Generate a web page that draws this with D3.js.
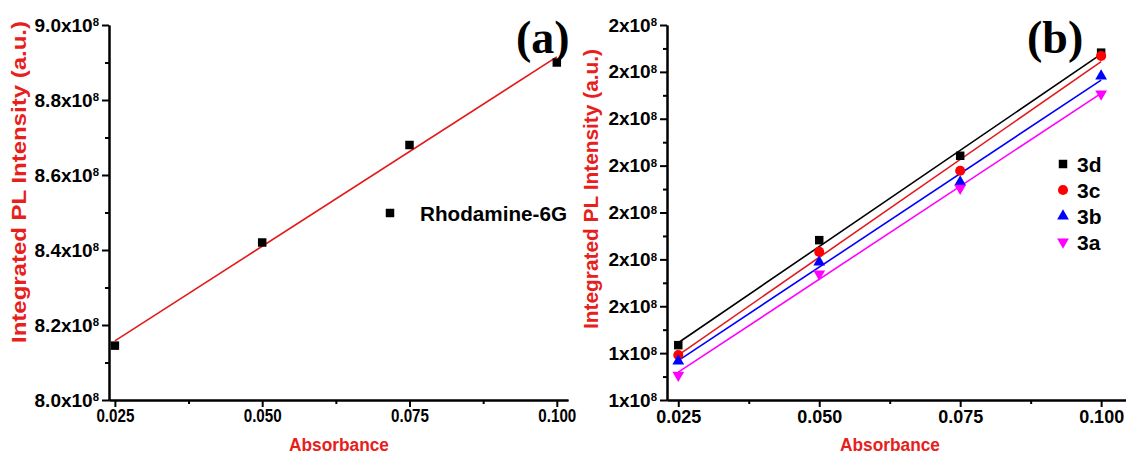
<!DOCTYPE html>
<html>
<head>
<meta charset="utf-8">
<script src="https://cdn.jsdelivr.net/npm/d3@7"></script>
<style>
  body { margin: 0; background: #fff; }
  svg { display: block; font-family: "Liberation Sans", Arial, sans-serif; font-weight: bold; }
  .axis path, .axis line { stroke: #000; stroke-width: 2; }
  .axis text { fill: #000; }
</style>
</head>
<body>
<div id="chart"></div>
<script>
// Data (intensity values in units of 1e8)
const absorbance = [0.025, 0.05, 0.075, 0.1];
const rhodamine = [8.145, 8.42, 8.68, 8.9];
const s3d = [1.417, 1.641, 1.821, 2.041];
const s3c = [1.396, 1.616, 1.789, 2.034];
const s3b = [1.383, 1.594, 1.765, 1.991];
const s3a = [1.353, 1.569, 1.752, 1.953];
const seriesNames = ["3d", "3c", "3b", "3a"];
const xTicks = [0.025, 0.05, 0.075, 0.1];
const xMinor = [0.0375, 0.0625, 0.0875];
const yTicksA = [8.0, 8.2, 8.4, 8.6, 8.8, 9.0];
const yMinorA = [8.1, 8.3, 8.5, 8.7, 8.9];
const yTicksB = [1.3, 1.4, 1.5, 1.6, 1.7, 1.8, 1.9, 2.0, 2.1];
const yMinorB = [1.35, 1.45, 1.55, 1.65, 1.75, 1.85, 1.95, 2.05];

const W = 1126, H = 454;
const red = "#e8201c";

const svg = d3.select("#chart").append("svg")
    .attr("width", W)
    .attr("height", H);

// least squares fit
function fit(xs, ys) {
    const mx = d3.mean(xs), my = d3.mean(ys);
    const sxy = d3.sum(xs, (x, i) => (x - mx) * (ys[i] - my));
    const sxx = d3.sum(xs, x => (x - mx) * (x - mx));
    const b = sxy / sxx;
    return x => my + b * (x - mx);
}

function drawAxes(cfg) {
    const {x, y, yTicks, yMinor, yFmt, xFont, xLen, yFont} = cfg;
    const x0 = x.range()[0], y0 = y.range()[0];

    // minor ticks
    svg.append("g").attr("class", "axis")
        .attr("transform", `translate(0,${y0})`)
        .call(d3.axisBottom(x).tickValues(xMinor).tickSize(4).tickSizeOuter(0).tickFormat(""));
    svg.append("g").attr("class", "axis")
        .attr("transform", `translate(${x0},0)`)
        .call(d3.axisLeft(y).tickValues(yMinor).tickSize(4).tickSizeOuter(0).tickFormat(""));

    const gx = svg.append("g").attr("class", "axis")
        .attr("transform", `translate(0,${y0})`)
        .call(d3.axisBottom(x).tickValues(xTicks).tickSize(7).tickSizeOuter(0).tickPadding(3)
            .tickFormat(d3.format(".3f")));
    gx.selectAll("text").attr("font-size", xFont).attr("font-family", null)
        .attr("textLength", xLen).attr("lengthAdjust", "spacingAndGlyphs");

    const gy = svg.append("g").attr("class", "axis")
        .attr("transform", `translate(${x0},0)`)
        .call(d3.axisLeft(y).tickValues(yTicks).tickSize(7).tickSizeOuter(0).tickPadding(3)
            .tickFormat(""));
    gy.selectAll(".tick text").each(function(d) {
        const t = d3.select(this).attr("font-size", yFont).attr("font-family", null);
        t.append("tspan").text(yFmt(d) + "x10");
        t.append("tspan").attr("dy", "-0.45em").attr("font-size", yFont * 0.6).text("8");
    });
}

function yTitle(cx, cy, len) {
    svg.append("text")
        .attr("transform", `translate(${cx},${cy}) rotate(-90)`)
        .attr("text-anchor", "middle")
        .attr("font-size", 19.5)
        .attr("fill", red)
        .attr("textLength", len)
        .attr("lengthAdjust", "spacingAndGlyphs")
        .text("Integrated PL Intensity (a.u.)");
}

function xTitle(cx, cy) {
    svg.append("text")
        .attr("x", cx).attr("y", cy)
        .attr("text-anchor", "middle")
        .attr("font-size", 18)
        .attr("fill", red)
        .attr("textLength", 100)
        .attr("lengthAdjust", "spacingAndGlyphs")
        .text("Absorbance");
}

function panelLabel(px, py, s) {
    svg.append("text")
        .attr("x", px).attr("y", py)
        .attr("font-family", "'Liberation Serif', 'Times New Roman', serif")
        .attr("font-weight", "bold")
        .attr("font-size", 46)
        .text(s);
}

// ---------- Panel (a) ----------
const xA = d3.scaleLinear().domain([0.0240, 0.1019]).range([109, 568]);
const yA = d3.scaleLinear().domain([8.0, 9.0]).range([400, 25]);

drawAxes({x: xA, y: yA, yTicks: yTicksA, yMinor: yMinorA, yFmt: d3.format(".1f"),
          xFont: 17.5, xLen: 38, yFont: 19});

const fA = fit(absorbance, rhodamine);
svg.append("line")
    .attr("x1", xA(0.025)).attr("y1", yA(fA(0.025)))
    .attr("x2", xA(0.1)).attr("y2", yA(fA(0.1)))
    .attr("stroke", "#e31a1c").attr("stroke-width", 1.6);

svg.append("g").selectAll("path")
    .data(absorbance)
    .join("path")
    .attr("transform", (d, i) => `translate(${xA(d)},${yA(rhodamine[i])})`)
    .attr("d", d3.symbol(d3.symbolSquare, 72));

// legend (a)
svg.append("path")
    .attr("transform", "translate(390,213)")
    .attr("d", d3.symbol(d3.symbolSquare, 72));
svg.append("text")
    .attr("x", 420).attr("y", 221)
    .attr("font-size", 20.5)
    .attr("textLength", 147)
    .attr("lengthAdjust", "spacingAndGlyphs")
    .text("Rhodamine-6G");

yTitle(26, 182, 322);
xTitle(339, 451);
panelLabel(516, 53, "(a)");

// ---------- Panel (b) ----------
const xB = d3.scaleLinear().domain([0.023, 0.1045]).range([667, 1126.5]);
const yB = d3.scaleLinear().domain([1.3, 2.1]).range([400, 25]);

drawAxes({x: xB, y: yB, yTicks: yTicksB, yMinor: yMinorB, yFmt: d => String(Math.round(d)),
          xFont: 18, xLen: 45, yFont: 19});

const seriesB = [
    {name: seriesNames[0], vals: s3d, color: "#000000", line: "#000000", sym: d3.symbolSquare, size: 72, rot: 0},
    {name: seriesNames[1], vals: s3c, color: "#ff0000", line: "#e31a1c", sym: d3.symbolCircle, size: 80, rot: 0},
    {name: seriesNames[2], vals: s3b, color: "#0000ff", line: "#0000ff", sym: d3.symbolTriangle, size: 60, rot: 0},
    {name: seriesNames[3], vals: s3a, color: "#ff00ff", line: "#ff00ff", sym: d3.symbolTriangle, size: 60, rot: 180}
];

seriesB.forEach(s => {
    const f = fit(absorbance, s.vals);
    svg.append("line")
        .attr("x1", xB(0.025)).attr("y1", yB(f(0.025)))
        .attr("x2", xB(0.1)).attr("y2", yB(f(0.1)))
        .attr("stroke", s.line).attr("stroke-width", 1.6);
});

seriesB.forEach(s => {
    svg.append("g").selectAll("path")
        .data(absorbance)
        .join("path")
        .attr("transform", (d, i) => `translate(${xB(d)},${yB(s.vals[i])}) rotate(${s.rot})`)
        .attr("d", d3.symbol(s.sym, s.size))
        .attr("fill", s.color);
});

// legend (b)
const legB = svg.append("g").selectAll("g")
    .data(seriesB)
    .join("g")
    .attr("transform", (d, i) => `translate(1063,${164 + i * 26})`);
legB.append("path")
    .attr("transform", d => `rotate(${d.rot})`)
    .attr("d", d => d3.symbol(d.sym, d.size)())
    .attr("fill", d => d.color);
legB.append("text")
    .attr("x", 14).attr("y", 7.5)
    .attr("font-size", 21)
    .text(d => d.name);

yTitle(598, 189, 280);
xTitle(890, 451);
panelLabel(1027, 53, "(b)");
</script>
</body>
</html>
